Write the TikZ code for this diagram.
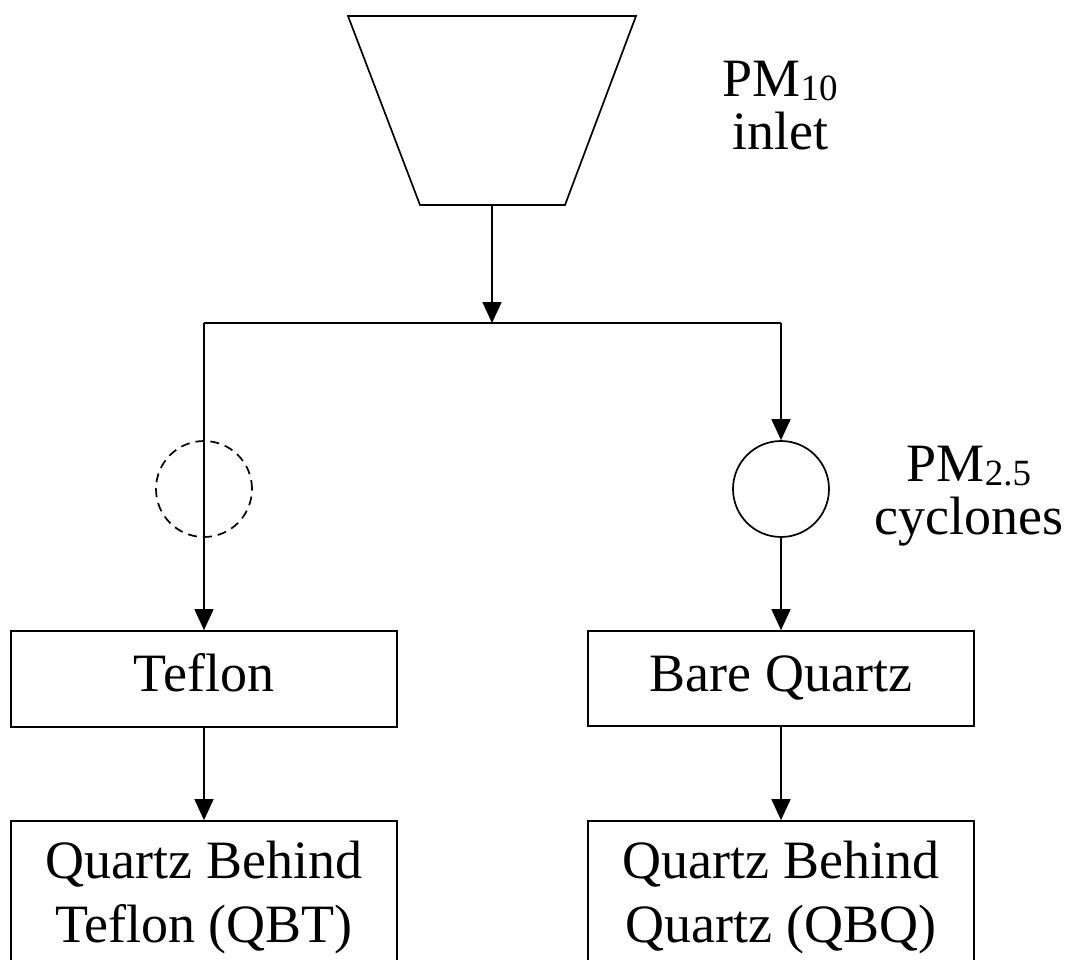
\documentclass[tikz,border=0pt]{standalone}
\usepackage{fontspec}
\setmainfont{Liberation Serif}
\usetikzlibrary{arrows.meta}
\newcommand\mysub[1]{\raisebox{-4pt}{\fontsize{37}{37}\selectfont #1}}
\begin{document}
\begin{tikzpicture}[x=1pt,y=-1pt,
  ln/.style={line width=1.7pt},
  arr/.style={ln,-{Triangle[length=21pt,width=19pt]}},
  box/.style={draw,ln,minimum width=386pt,inner sep=0pt,align=center,
    font=\fontsize{54}{64}\selectfont},
  one/.style={text height=37pt,text depth=12pt},
  lbl/.style={align=center,inner sep=0pt,font=\fontsize{54}{53}\selectfont},
  cyc/.style={draw,ln,circle,minimum size=96pt,inner sep=0pt}]
\useasboundingbox (0,0) rectangle (1068,960);
\clip (0,0) rectangle (1068,960);
% inlet
\draw[ln,line join=miter] (348,16) -- (636,16) -- (565,205) -- (420,205) -- cycle;
\coordinate (inb) at (492,205);
\coordinate (J) at (492,323);
\node[lbl] (pm10) at (780,106) {PM\mysub{10}\\inlet};
% cyclones
\node[cyc,dash pattern=on 9pt off 6pt] (dc) at (204,489) {};
\node[cyc] (cy) at (781,489) {};
\node[lbl] (pm25) at (969,496) {PM\mysub{2.5}\\cyclones};
\coordinate (L) at (dc |- J);
\coordinate (R) at (cy |- J);
% boxes
\node[box,one,minimum height=96pt] (tef) at (204,679) {Teflon};
\node[box,one,minimum height=95pt] (bq) at (781,678.5) {Bare Quartz};
\node[box,minimum height=153pt] (qbt) at (204,897.5) {Quartz Behind\\Teflon (QBT)};
\node[box,minimum height=153pt] (qbq) at (781,897.5) {Quartz Behind\\Quartz (QBQ)};
% connectors
\draw[arr] (inb) -- (J);
\draw[ln] (L) -- (R);
\draw[arr] (L) -- (tef.north);
\draw[arr] (R) -- (cy.north);
\draw[arr] (cy.south) -- (bq.north);
\draw[arr] (tef.south) -- (qbt.north);
\draw[arr] (bq.south) -- (qbq.north);
\end{tikzpicture}
\end{document}
